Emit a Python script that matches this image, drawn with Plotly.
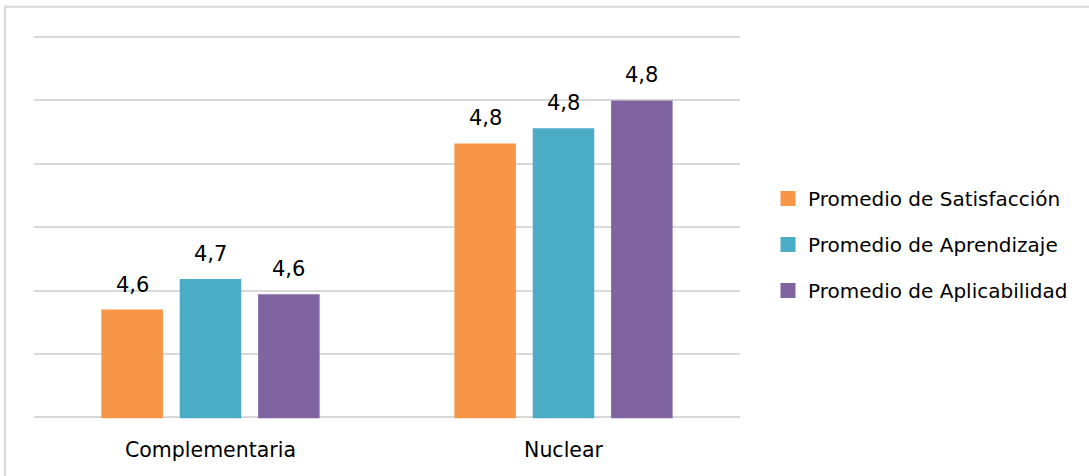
import plotly.graph_objects as go

W, H = 1089, 476

categories = ["Complementaria", "Nuclear"]
series_names = ["Promedio de Satisfacción", "Promedio de Aprendizaje", "Promedio de Aplicabilidad"]
satisfaccion = [4.635, 4.766]
aprendizaje = [4.659, 4.778]
aplicabilidad = [4.647, 4.800]
colors = ["#F79646", "#4BACC6", "#8064A2"]

y_min, y_max, y_step = 4.55, 4.85, 0.05
pad = 0.0008  # keep first/last gridline inside the plot area

# plot area in pixels
px_left, px_right = 34, 740
px_top, px_bottom = 36, 418.3
bargap, bargroupgap = 0.334, 0.215

FONT = "DejaVu Sans"

fig = go.Figure()
all_series = [satisfaccion, aprendizaje, aplicabilidad]
for name, vals, col in zip(series_names, all_series, colors):
    fig.add_trace(go.Bar(
        x=categories, y=vals, name=name,
        marker=dict(color=col, line=dict(width=0)),
        hoverinfo="skip", showlegend=False,
    ))
    # square legend swatch
    fig.add_trace(go.Scatter(
        x=[None], y=[None], mode="markers", name=name,
        marker=dict(symbol="square", size=15, color=col),
        legendgroup=name, showlegend=True,
    ))

# value labels above bars
plot_w = px_right - px_left
cat_w = plot_w / len(categories)
slot = cat_w * (1 - bargap) / len(all_series)
for i, vals in enumerate(all_series):
    offset = (i - (len(all_series) - 1) / 2) * slot
    for c, v in zip(categories, vals):
        fig.add_annotation(
            x=c, y=v, xref="x", yref="y",
            text=f"{v:.1f}".replace(".", ","),
            showarrow=False, xshift=offset, yshift=11,
            yanchor="bottom",
            font=dict(family=FONT, size=21, color="#000000"),
        )

# outer chart border
fig.add_shape(type="rect", xref="paper", yref="paper",
              x0=5 / W, x1=1.02, y0=-0.02, y1=1 - 6.7 / H,
              line=dict(color="#D9D9D9", width=2), layer="below")

fig.update_layout(
    width=W, height=H,
    margin=dict(l=0, r=0, t=0, b=0),
    paper_bgcolor="white", plot_bgcolor="white",
    barmode="group", bargap=bargap, bargroupgap=bargroupgap,
    font=dict(family=FONT, color="#000000"),
    showlegend=True,
    legend=dict(
        x=768 / W, y=1 - 179 / H, xanchor="left", yanchor="top",
        font=dict(family=FONT, size=20, color="#000000"),
        itemwidth=30, tracegroupgap=17, traceorder="grouped",
        bgcolor="rgba(0,0,0,0)",
    ),
    xaxis=dict(
        domain=[px_left / W, px_right / W],
        showgrid=False, showline=False, ticks="",
        tickfont=dict(family=FONT, size=20.5, color="#000000"),
        ticklabelstandoff=17,
    ),
    yaxis=dict(
        domain=[1 - px_bottom / H, 1 - px_top / H],
        range=[y_min - pad, y_max + pad], tick0=y_min, dtick=y_step,
        showgrid=True, gridcolor="#D9D9D9", gridwidth=1.5,
        showticklabels=False, zeroline=False, showline=False,
    ),
)

fig.write_html("out.html")
